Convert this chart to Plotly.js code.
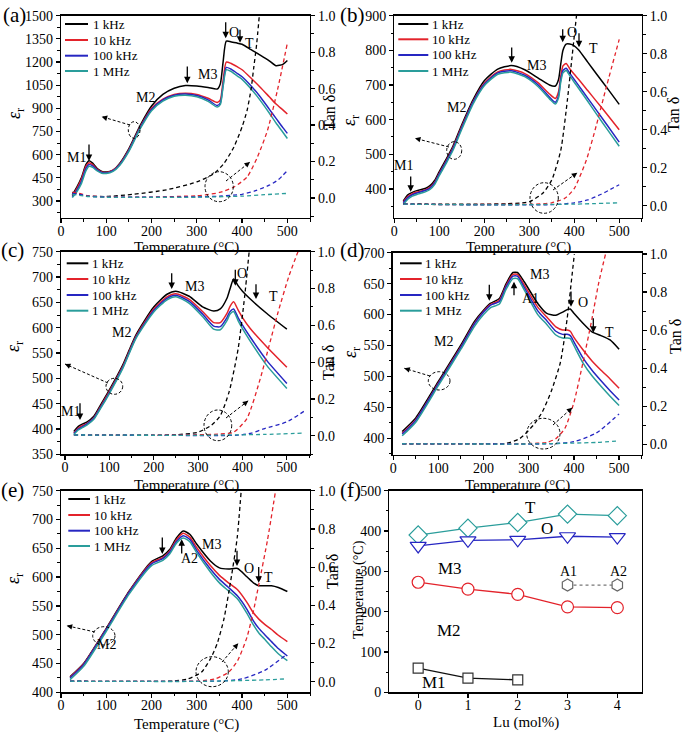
<!DOCTYPE html>
<html><head><meta charset="utf-8">
<script src="https://cdn.plot.ly/plotly-3.0.1.min.js"></script>
<style>body{margin:0;background:#fff}#chart{width:685px;height:734px}</style>
</head><body><div id="chart"></div>
<script>
// ---------------- DATA ----------------
const FREQS = ['1 kHz', '10 kHz', '100 kHz', '1 MHz'];

// Panel (a)
const A_T = [25,35,45,55,62,70,80,90,100,115,130,150,175,200,225,250,275,300,325,345,352,358,365,375,390,400,420,440,460,475,490,500];
const A_1kHz   = [340,390,450,535,560,545,510,492,488,500,545,640,790,915,990,1030,1048,1045,1035,1025,1060,1200,1335,1332,1322,1315,1280,1245,1208,1176,1185,1210];
const A_10kHz  = [330,380,440,525,548,535,505,488,484,500,540,632,780,900,960,990,998,990,965,938,955,1080,1200,1192,1168,1150,1095,1037,975,928,890,863];
const A_100kHz = [328,370,425,510,537,527,500,485,482,497,537,628,776,893,955,985,993,983,955,918,935,1050,1165,1155,1125,1105,1045,975,895,835,775,738];
const A_1MHz   = [322,360,412,495,525,518,495,480,478,492,532,622,768,885,947,978,985,975,945,908,925,1040,1150,1140,1108,1088,1025,952,870,805,745,705];
const A_TAN_T_1kHz = [25,40,60,100,160,234,300,338,360,382,400,411,420,426,432,438];
const A_TAN_1kHz   = [0.03,0.02,0.01,0.008,0.02,0.045,0.088,0.134,0.19,0.28,0.39,0.48,0.6,0.72,0.84,1.0];
const A_TAN_T_10kHz = [25,40,60,100,200,300,323,350,382,411,434,456,478,500];
const A_TAN_10kHz   = [0.03,0.025,0.012,0.006,0.005,0.012,0.018,0.03,0.06,0.115,0.225,0.37,0.59,0.85];
const A_TAN_T_100kHz = [25,40,60,100,200,300,350,400,430,460,480,500];
const A_TAN_100kHz   = [0.025,0.02,0.01,0.005,0.004,0.006,0.01,0.02,0.04,0.07,0.1,0.15];
const A_TAN_T_1MHz = [25,60,100,200,300,400,450,500];
const A_TAN_1MHz   = [0.02,0.008,0.004,0.003,0.004,0.01,0.018,0.025];

// Panel (b)
const B_T = [20,30,40,50,60,70,80,90,100,115,130,150,175,200,230,260,290,320,345,358,365,370,375,382,390,400,410,430,450,475,500];
const B_1kHz   = [365,383,390,395,398,402,410,425,450,485,522,585,657,712,746,756,744,720,700,697,715,760,800,818,818,813,801,766,731,688,644];
const B_10kHz  = [362,378,386,391,394,398,405,420,445,480,518,580,652,705,738,745,733,706,674,661,680,725,755,762,747,731,716,684,652,612,571];
const B_100kHz = [360,375,383,388,392,396,403,418,443,478,515,577,650,702,735,741,728,700,665,650,668,715,742,748,734,716,698,662,626,581,535];
const B_1MHz   = [355,370,379,384,388,392,399,413,438,473,510,572,645,698,731,737,724,695,660,645,662,708,735,742,727,708,690,653,615,569,523];
const B_TAN_T_1kHz = [20,100,200,250,280,300,330,350,370,385,395,405];
const B_TAN_1kHz   = [0.01,0.008,0.008,0.01,0.014,0.02,0.065,0.135,0.29,0.56,0.78,1.0];
const B_TAN_T_10kHz = [20,100,200,300,350,380,400,427,450,472,500];
const B_TAN_10kHz   = [0.008,0.006,0.006,0.007,0.015,0.04,0.09,0.24,0.43,0.63,0.875];
const B_TAN_T_100kHz = [20,200,350,400,430,460,480,500];
const B_TAN_100kHz   = [0.008,0.004,0.005,0.015,0.03,0.06,0.085,0.11];
const B_TAN_T_1MHz = [20,200,400,500];
const B_TAN_1MHz   = [0.008,0.004,0.008,0.015];

// Panel (c)
const C_T = [20,30,40,50,65,80,100,130,160,200,230,250,280,310,335,350,365,372,380,390,400,417,455,500];
const C_1kHz   = [395,405,410,414,425,447,477,526,586,641,666,672,662,641,633,637,658,677,696,683,672,657,628,597];
const C_10kHz  = [392,402,407,411,422,444,474,523,583,637,661,667,656,632,610,610,628,642,651,635,620,599,562,522];
const C_100kHz = [391,400,405,410,421,442,472,521,581,634,658,664,652,627,603,602,620,632,637,620,605,582,535,490];
const C_1MHz   = [389,398,403,408,419,440,470,519,579,631,655,661,648,622,597,596,614,627,632,614,598,574,525,480];
const C_TAN_T_1kHz = [20,100,200,250,300,330,350,370,390,405,415];
const C_TAN_1kHz   = [0.005,0.004,0.004,0.006,0.02,0.058,0.11,0.24,0.47,0.76,1.0];
const C_TAN_T_10kHz = [20,200,350,380,410,440,460,480,505,525];
const C_TAN_10kHz   = [0.005,0.003,0.01,0.02,0.094,0.31,0.49,0.67,0.87,1.0];
const C_TAN_T_100kHz = [20,200,390,420,450,500,540];
const C_TAN_100kHz   = [0.005,0.003,0.004,0.015,0.04,0.076,0.136];
const C_TAN_T_1MHz = [20,300,450,540];
const C_TAN_1MHz   = [0.005,0.003,0.008,0.015];

// Panel (d)
const D_T = [20,50,100,150,180,200,215,235,250,265,275,290,320,340,360,375,385,392,400,420,440,460,480,500];
const D_1kHz   = [411,433,492,551,589,607,618,626,650,668,668,653,618,602,599,604,608,609,602,586,572,566,559,544];
const D_10kHz  = [408,430,489,548,586,605,616,623,647,665,665,648,612,596,580,575,575,573,563,543,525,510,496,481];
const D_100kHz = [407,429,488,547,585,604,615,621,645,662,662,644,606,590,573,568,568,566,556,530,510,493,477,462];
const D_1MHz   = [404,426,485,544,581,600,611,617,641,658,658,640,600,584,567,562,562,561,550,522,501,484,468,453];
const D_TAN_T_1kHz = [20,100,200,250,280,310,330,350,370,385,395,401];
const D_TAN_1kHz   = [0.003,0.002,0.003,0.005,0.03,0.1,0.17,0.28,0.43,0.66,0.87,1.0];
const D_TAN_T_10kHz = [20,200,300,340,360,380,400,420,440,455,470];
const D_TAN_10kHz   = [0.003,0.002,0.004,0.01,0.03,0.084,0.22,0.43,0.66,0.85,1.0];
const D_TAN_T_100kHz = [20,200,350,400,450,500];
const D_TAN_100kHz   = [0.003,0.002,0.003,0.014,0.06,0.16];
const D_TAN_T_1MHz = [20,300,450,500];
const D_TAN_1MHz   = [0.003,0.002,0.01,0.018];

// Panel (e)
const E_T = [20,50,100,150,200,225,240,255,270,285,300,330,350,370,390,410,425,437,450,465,480,500];
const E_1kHz   = [427,450,511,575,627,637,648,668,680,674,657,628,616,614,615,601,590,585,585,585,582,575];
const E_10kHz  = [426,449,510,574,625,634,645,665,676,669,651,620,603,590,578,557,538,527,518,509,499,488];
const E_100kHz = [425,448,509,573,623,632,643,662,672,665,646,614,596,582,567,545,524,511,500,488,476,463];
const E_1MHz   = [422,445,506,570,620,629,640,659,668,661,642,609,590,576,562,538,517,503,492,479,467,455];
const E_TAN_T_1kHz = [20,200,250,280,310,330,345,360,375,389,398];
const E_TAN_1kHz   = [0.003,0.002,0.004,0.015,0.05,0.12,0.2,0.33,0.53,0.75,1.0];
const E_TAN_T_10kHz = [20,200,300,340,370,390,411,425,437,456,474];
const E_TAN_10kHz   = [0.003,0.002,0.004,0.015,0.05,0.11,0.235,0.37,0.51,0.74,1.0];
const E_TAN_T_100kHz = [20,200,350,400,450,497];
const E_TAN_100kHz   = [0.003,0.002,0.004,0.015,0.06,0.14];
const E_TAN_T_1MHz = [20,300,450,495];
const E_TAN_1MHz   = [0.003,0.002,0.01,0.015];

// Panel (f)
const LU = [0,1,2,3,4];
const F_T_TEMP  = [390,407,421,442,438];
const F_O_TEMP  = [363,377,378,387,385];
const F_M3_TEMP = [273,256,243,212,210];
const LU_M1 = [0,1,2];
const F_M1_TEMP = [60,35,31];
const LU_A = [3,4];
const F_A_TEMP = [266,266];

// ---------------- STYLE / LAYOUT ----------------
const W = 685, H = 734;
const px = v => v / W;
const py = v => 1 - v / H;
const SERIF = 'Liberation Serif';
const COLORS = ['#000000', '#e3232b', '#2626c2', '#2a9d9b'];

const panels = [
  {xa:'x',  yl:'y',  yr:'y2',  g:{x0:61,x1:310,y0:15.7,y1:218}, leg:{l0:65,l1:88,tx:91,ys:[24,40,55.7,71]},
   xr:[0,550], ylr:[190,1500], ydt:150, ymdt:75, yrr:[-0.11,1.0],
   T:A_T, eps:[A_1kHz,A_10kHz,A_100kHz,A_1MHz],
   tT:[A_TAN_T_1kHz,A_TAN_T_10kHz,A_TAN_T_100kHz,A_TAN_T_1MHz], tan:[A_TAN_1kHz,A_TAN_10kHz,A_TAN_100kHz,A_TAN_1MHz]},
  {xa:'x2', yl:'y3', yr:'y4',  g:{x0:394.3,x1:641.7,y0:15.7,y1:218}, leg:{l0:398.3,l1:428.3,tx:430,ys:[24,39.3,55,71]},
   xr:[0,550], ylr:[316,900], ydt:100, ymdt:50, yrr:[-0.065,1.0],
   T:B_T, eps:[B_1kHz,B_10kHz,B_100kHz,B_1MHz],
   tT:[B_TAN_T_1kHz,B_TAN_T_10kHz,B_TAN_T_100kHz,B_TAN_T_1MHz], tan:[B_TAN_1kHz,B_TAN_10kHz,B_TAN_100kHz,B_TAN_1MHz]},
  {xa:'x3', yl:'y5', yr:'y6',  g:{x0:61,x1:309.5,y0:251.7,y1:454.3}, leg:{l0:66.7,l1:88.3,tx:90,ys:[263.3,279,295,310.7]},
   xr:[-9,551], ylr:[350,750], ydt:50, ymdt:25, yrr:[-0.1,1.0],
   T:C_T, eps:[C_1kHz,C_10kHz,C_100kHz,C_1MHz],
   tT:[C_TAN_T_1kHz,C_TAN_T_10kHz,C_TAN_T_100kHz,C_TAN_T_1MHz], tan:[C_TAN_1kHz,C_TAN_10kHz,C_TAN_100kHz,C_TAN_1MHz]},
  {xa:'x4', yl:'y7', yr:'y8',  g:{x0:392.7,x1:641.7,y0:252.7,y1:455}, leg:{l0:400,l1:421.7,tx:423,ys:[263.3,279,295,310.7]},
   xr:[-1,550], ylr:[373,700], ydt:50, ymdt:25, yrr:[-0.056,1.007],
   T:D_T, eps:[D_1kHz,D_10kHz,D_100kHz,D_1MHz],
   tT:[D_TAN_T_1kHz,D_TAN_T_10kHz,D_TAN_T_100kHz,D_TAN_T_1MHz], tan:[D_TAN_1kHz,D_TAN_10kHz,D_TAN_100kHz,D_TAN_1MHz]},
  {xa:'x5', yl:'y9', yr:'y10', g:{x0:61,x1:310,y0:490.7,y1:692.3}, leg:{l0:68.3,l1:90,tx:92,ys:[499,515,530.7,546]},
   xr:[0,550], ylr:[400,750], ydt:50, ymdt:25, yrr:[-0.055,1.0],
   T:E_T, eps:[E_1kHz,E_10kHz,E_100kHz,E_1MHz],
   tT:[E_TAN_T_1kHz,E_TAN_T_10kHz,E_TAN_T_100kHz,E_TAN_T_1MHz], tan:[E_TAN_1kHz,E_TAN_10kHz,E_TAN_100kHz,E_TAN_1MHz]}
];
const GF = {x0:389.3,x1:641.7,y0:490.7,y1:692.3};

const axName = id => (id[0] === 'x' ? 'xaxis' : 'yaxis') + id.slice(1);
const tickFont = {family: SERIF, size: 14, color: '#000'};
const baseAx = {showline:true, linecolor:'#000', linewidth:1.3, ticks:'outside', ticklen:4, tickwidth:1.2,
  tickcolor:'#000', showgrid:false, zeroline:false, tickfont:tickFont};

const traces = [];
const layout = {
  width: W, height: H, margin:{l:0,r:0,t:0,b:0}, paper_bgcolor:'#fff', plot_bgcolor:'rgba(0,0,0,0)',
  font:{family:SERIF, color:'#000'}, showlegend:false, annotations:[], shapes:[]
};
const ann = layout.annotations, shp = layout.shapes;

function text(t, x, y, size, angle, anchor) {
  ann.push({text:t, x:px(x), y:py(y), xref:'paper', yref:'paper', showarrow:false, xanchor:anchor || 'center', yanchor:'middle',
    textangle:angle || 0, font:{family:SERIF, size:size, color:'#000'}});
}

panels.forEach(p => {
  const g = p.g;
  for (let i = 0; i < 4; i++) {
    traces.push({x:p.T, y:p.eps[i], xaxis:p.xa, yaxis:p.yl, mode:'lines', name:FREQS[i], hoverinfo:'skip',
      line:{color:COLORS[i], width:1.5, shape:'spline', smoothing:0.6}});
  }
  for (let i = 0; i < 4; i++) {
    traces.push({x:p.tT[i], y:p.tan[i], xaxis:p.xa, yaxis:p.yr, mode:'lines', name:FREQS[i] + ' tan', hoverinfo:'skip',
      line:{color:COLORS[i], width:1.3, dash:'4px,3px', shape:'spline', smoothing:0.6}});
  }
  layout[axName(p.xa)] = Object.assign({}, baseAx, {domain:[px(g.x0),px(g.x1)], range:p.xr, anchor:p.yl,
    mirror:true, dtick:100, tick0:0, ticklabelstandoff:-4,
    minor:{ticks:'outside', ticklen:2.5, dtick:50, tickwidth:1, tickcolor:'#000'}});
  layout[axName(p.yl)] = Object.assign({}, baseAx, {domain:[py(g.y1),py(g.y0)], range:p.ylr, anchor:p.xa,
    mirror:false, dtick:p.ydt, tick0:0, minor:{ticks:'outside', ticklen:2.5, dtick:p.ymdt, tickwidth:1, tickcolor:'#000'}});
  layout[axName(p.yr)] = Object.assign({}, baseAx, {overlaying:p.yl, side:'right', range:p.yrr, anchor:p.xa,
    dtick:0.2, tick0:0, tickformat:'.1f', minor:{ticks:'outside', ticklen:2.5, dtick:0.1, tickwidth:1, tickcolor:'#000'}});
  // legend (sample line + label)
  const L = p.leg;
  for (let i = 0; i < 4; i++) {
    shp.push({type:'line', xref:'paper', yref:'paper', x0:px(L.l0), x1:px(L.l1), y0:py(L.ys[i]), y1:py(L.ys[i]),
      line:{color:COLORS[i], width:2}});
    text(FREQS[i], L.tx, L.ys[i], 13, 0, 'left');
  }
});

// Panel (f) traces
const fMarker = (sym, col, size) => ({symbol:sym, size:size, color:'#fff', line:{color:col, width:1.2}});
traces.push({x:LU, y:F_T_TEMP, xaxis:'x6', yaxis:'y11', mode:'lines+markers', name:'T', hoverinfo:'skip',
  line:{color:'#2a9d9b', width:1.3}, marker:fMarker('diamond', '#2a9d9b', 14)});
traces.push({x:LU, y:F_O_TEMP, xaxis:'x6', yaxis:'y11', mode:'lines+markers', name:'O', hoverinfo:'skip',
  line:{color:'#2626c2', width:1.3}, marker:fMarker('triangle-down', '#2626c2', 14)});
traces.push({x:LU, y:F_M3_TEMP, xaxis:'x6', yaxis:'y11', mode:'lines+markers', name:'M3', hoverinfo:'skip',
  line:{color:'#e3232b', width:1.3}, marker:fMarker('circle', '#e3232b', 12)});
traces.push({x:LU_M1, y:F_M1_TEMP, xaxis:'x6', yaxis:'y11', mode:'lines+markers', name:'M1', hoverinfo:'skip',
  line:{color:'#111', width:1.3}, marker:fMarker('square', '#333', 10)});
traces.push({x:LU_A, y:F_A_TEMP, xaxis:'x6', yaxis:'y11', mode:'lines+markers', name:'A', hoverinfo:'skip',
  line:{color:'#777', width:1.3, dash:'dot'}, marker:fMarker('hexagon', '#666', 12)});
layout.xaxis6 = Object.assign({}, baseAx, {domain:[px(GF.x0),px(GF.x1)], range:[-0.58,4.49], anchor:'y11',
  mirror:true, dtick:1, tick0:0, ticklabelstandoff:-4});
layout.yaxis11 = Object.assign({}, baseAx, {domain:[py(GF.y1),py(GF.y0)], range:[0,500], anchor:'x6',
  mirror:true, dtick:100, tick0:0, minor:{ticks:'outside', ticklen:2.5, dtick:50, tickwidth:1, tickcolor:'#000'}});

// ---------------- DECORATIONS (pixel positions) ----------------
function arrow(x, yTail, yTip) {
  ann.push({text:'', x:px(x), y:py(yTip), xref:'paper', yref:'paper', showarrow:true, ax:0, ay:yTail - yTip,
    axref:'pixel', ayref:'pixel', arrowhead:2, arrowsize:1, arrowwidth:1.3, arrowcolor:'#000'});
}
function lasso(ex0, ey0, ex1, ey1, lx, ly, tx, ty) {
  const dash = {color:'#000', width:1, dash:'3px,2px'};
  shp.push({type:'circle', xref:'paper', yref:'paper', x0:px(ex0), x1:px(ex1), y0:py(ey1), y1:py(ey0), line:dash});
  shp.push({type:'line', xref:'paper', yref:'paper', x0:px(lx), y0:py(ly), x1:px(tx), y1:py(ty), line:dash});
  const dx = lx - tx, dy = ly - ty, len = Math.hypot(dx, dy);
  ann.push({text:'', x:px(tx), y:py(ty), xref:'paper', yref:'paper', showarrow:true, ax:6*dx/len, ay:6*dy/len,
    axref:'pixel', ayref:'pixel', arrowhead:2, arrowsize:1.1, arrowwidth:1, arrowcolor:'#000'});
}

// panel labels
text('(a)', 14, 15, 21); text('(b)', 352, 15, 21); text('(c)', 12, 250, 21);
text('(d)', 352, 250, 21); text('(e)', 12, 490, 21); text('(f)', 350, 490, 21);
// axis titles
[[186,247],[518,247],[186,485],[517,485],[186,724]].forEach(c => text('Temperature (°C)', c[0], c[1], 15));
text('Lu (mol%)', 526, 722, 15);
[[15,113],[351,120],[14,346],[351,352],[14,578]].forEach(c => text('<i>ε</i><sub>r</sub>', c[0], c[1], 18, -90));
[[329,113],[673,115],[329,363],[676,337],[332,572]].forEach(c => text('Tan δ', c[0], c[1], 16, -90));
text('Temperature (°C)', 359, 590, 14, -90);

// transition arrows
[[89,143,161],[187.3,65,83.3],[225.7,20.7,38.3],[240,28.3,42.7],
 [410.7,175,191.7],[511.7,46,62.7],[562.7,27.7,42.3],[579,31.7,47.3],
 [80,401.7,420],[171.7,271.7,289],[235.3,268.3,285.7],[256,282.7,299],
 [489.3,283.3,300.7],[514,296.7,281.7],[571,290,306.7],[593.3,316.7,332.7],
 [162.3,536,554],[181.7,555,539.3],[237,549.3,566],[258.7,565.5,582.8]].forEach(a => arrow(a[0], a[1], a[2]));

// phase labels
[['M1',76,157],['M2',145.3,97.5],['M3',207.7,74.8],['O',234,32.5],['T',249.7,43],
 ['M1',403.3,165],['M2',456.7,107.5],['M3',536.2,65.8],['O',572,32.5],['T',593.3,48.7],
 ['M1',70.5,411],['M2',121.3,332.5],['M3',194,286.5],['O',241.7,273.5],['T',273,296.2],
 ['M2',443,341.8],['M3',539.5,274.2],['A1',530.8,298.2],['O',583,302],['T',609,332.2],
 ['M2',106.3,644.8],['M3',211.7,544.3],['A2',189.2,558.2],['O',249.5,568],['T',268.8,577.5]
].forEach(l => text(l[0], l[1], l[2], 14));
[['T',530.7,507],['O',547.3,528.8],['M3',450.3,568.7],['M2',449,630.5],['M1',434.2,682.8]].forEach(l => text(l[0], l[1], l[2], 17));
[['A1',568.3,571.8],['A2',618.3,571.8]].forEach(l => text(l[0], l[1], l[2], 14));

// dashed lassos pointing to the axes
[[128.3,121.7,140,138.3,130,125,101.7,116.7],[205,171.7,233.3,201.7,226,181,250,162],
 [446.7,141.7,461.7,159.3,449,147,415,138.3],[530,182.7,558.3,213.3,553,190,577.3,172.7],
 [106,378.3,122.7,394.3,108,383,65,364],[204,410,231.7,440.7,226,418,248.3,400.7],
 [428.3,371.7,450,390,430,376,404.3,368.3],[526.7,418.3,560,449,553,425,572.3,407.7],
 [92.7,626.7,115,645,95,632,66.7,625.7],[196,656.7,228.3,686.7,222,662,238.3,643.3]
].forEach(s => lasso.apply(null, s));

Plotly.newPlot('chart', traces, layout, {displayModeBar:false, staticPlot:true});
</script></body></html>
